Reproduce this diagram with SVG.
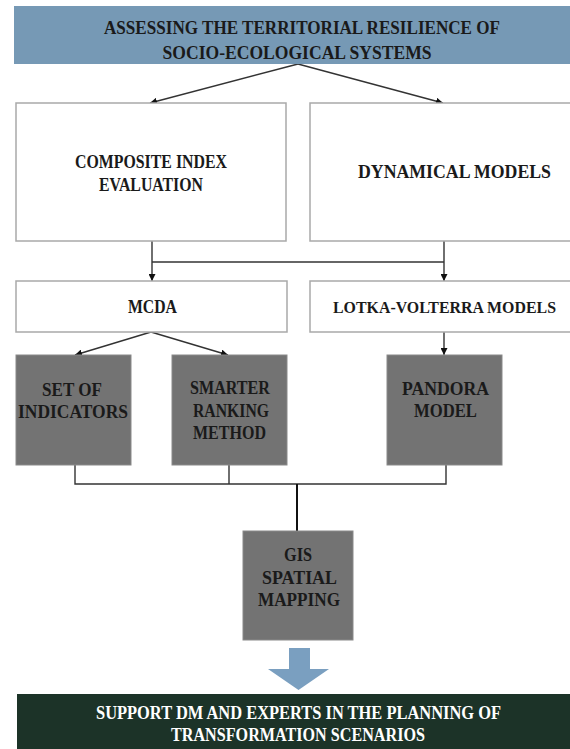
<svg xmlns="http://www.w3.org/2000/svg" width="570" height="749" viewBox="0 0 570 749">
<style>
.t{font-family:"Liberation Serif","DejaVu Serif",serif;font-weight:bold;font-size:18px;fill:#1a1a1a;text-anchor:middle}
.tb{font-size:19px}
.tw{fill:#ffffff}
.wbox{fill:#ffffff;stroke:#a9a9a9;stroke-width:1.5}
.gbox{fill:#737373;stroke:#8a8a8a;stroke-width:1}
.ln{fill:none;stroke:#333333;stroke-width:1.4}
</style>
<defs>
<marker id="ah" viewBox="0 0 10 10" refX="10" refY="5" markerWidth="7" markerHeight="7" orient="auto" markerUnits="userSpaceOnUse">
<path d="M0,0 L10,5 L0,10 z" fill="#111111"/>
</marker>
</defs>
<rect width="570" height="749" fill="#ffffff"/>

<g id="connectors">
<line class="ln" x1="298" y1="64" x2="150" y2="103" marker-end="url(#ah)"/>
<line class="ln" x1="298" y1="64" x2="443" y2="103" marker-end="url(#ah)"/>
<line class="ln" x1="152" y1="241" x2="152" y2="262"/>
<line class="ln" x1="444" y1="241" x2="444" y2="262"/>
<line class="ln" x1="152" y1="262" x2="444" y2="262"/>
<line class="ln" x1="152" y1="262" x2="152" y2="281" marker-end="url(#ah)"/>
<line class="ln" x1="444" y1="262" x2="444" y2="281" marker-end="url(#ah)"/>
<line class="ln" x1="151" y1="332" x2="75" y2="355" marker-end="url(#ah)"/>
<line class="ln" x1="151" y1="332" x2="228" y2="355" marker-end="url(#ah)"/>
<line class="ln" x1="444" y1="332" x2="444" y2="355" marker-end="url(#ah)"/>
<polyline class="ln" points="75,465 75,484 446,484 446,465"/>
<line class="ln" x1="229" y1="465" x2="229" y2="484"/>
<line x1="297" y1="484" x2="297" y2="531" stroke="#111111" stroke-width="2"/>
</g>

<g id="banner">
<rect x="14" y="6" width="560" height="58" fill="#7699b5"/>
<text class="t tb" x="302" y="34" textLength="396" lengthAdjust="spacingAndGlyphs">ASSESSING THE TERRITORIAL RESILIENCE OF</text>
<text class="t tb" x="297" y="59" textLength="269" lengthAdjust="spacingAndGlyphs">SOCIO-ECOLOGICAL SYSTEMS</text>
</g>

<g id="composite">
<rect class="wbox" x="16" y="103" width="270" height="138"/>
<text class="t" x="151" y="168" textLength="152" lengthAdjust="spacingAndGlyphs">COMPOSITE INDEX</text>
<text class="t" x="151" y="191" textLength="104" lengthAdjust="spacingAndGlyphs">EVALUATION</text>
</g>

<g id="dynamical">
<rect class="wbox" x="310" y="103" width="290" height="138"/>
<text class="t" x="454.5" y="178" textLength="193" lengthAdjust="spacingAndGlyphs">DYNAMICAL MODELS</text>
</g>

<g id="mcda">
<rect class="wbox" x="16" y="281" width="271" height="51"/>
<text class="t" x="152.5" y="313" textLength="49" lengthAdjust="spacingAndGlyphs">MCDA</text>
</g>

<g id="lotka">
<rect class="wbox" x="310" y="281" width="290" height="51"/>
<text class="t" x="444.5" y="313" style="font-size:16.5px" textLength="223" lengthAdjust="spacingAndGlyphs">LOTKA-VOLTERRA MODELS</text>
</g>

<g id="indicators">
<rect class="gbox" x="16" y="355" width="115" height="110"/>
<text class="t" x="72" y="396" textLength="60" lengthAdjust="spacingAndGlyphs">SET OF</text>
<text class="t" x="73" y="418" textLength="110" lengthAdjust="spacingAndGlyphs">INDICATORS</text>
</g>

<g id="smarter">
<rect class="gbox" x="172" y="355" width="115" height="110"/>
<text class="t" x="230" y="394" textLength="80" lengthAdjust="spacingAndGlyphs">SMARTER</text>
<text class="t" x="231" y="417" textLength="76" lengthAdjust="spacingAndGlyphs">RANKING</text>
<text class="t" x="229.5" y="439" textLength="73" lengthAdjust="spacingAndGlyphs">METHOD</text>
</g>

<g id="pandora">
<rect class="gbox" x="387" y="355" width="115" height="110"/>
<text class="t" x="445.5" y="395" textLength="87" lengthAdjust="spacingAndGlyphs">PANDORA</text>
<text class="t" x="445.5" y="417" textLength="63" lengthAdjust="spacingAndGlyphs">MODEL</text>
</g>

<g id="gis">
<rect class="gbox" x="243" y="531" width="110" height="109"/>
<text class="t" x="298" y="561" textLength="28" lengthAdjust="spacingAndGlyphs">GIS</text>
<text class="t" x="299.5" y="584" textLength="75" lengthAdjust="spacingAndGlyphs">SPATIAL</text>
<text class="t" x="299" y="606" textLength="82" lengthAdjust="spacingAndGlyphs">MAPPING</text>
</g>

<g id="block-arrow">
<path d="M289,648 L310,648 L310,669 L329,669 L298.5,690 L268,669 L289,669 Z" fill="#7a9fc0"/>
</g>

<g id="support">
<rect x="17" y="694" width="560" height="58" fill="#1c3328"/>
<text class="t tw" x="298.5" y="719" textLength="405" lengthAdjust="spacingAndGlyphs">SUPPORT DM AND EXPERTS IN THE PLANNING OF</text>
<text class="t tw" x="298" y="741" textLength="254" lengthAdjust="spacingAndGlyphs">TRANSFORMATION SCENARIOS</text>
</g>
</svg>
